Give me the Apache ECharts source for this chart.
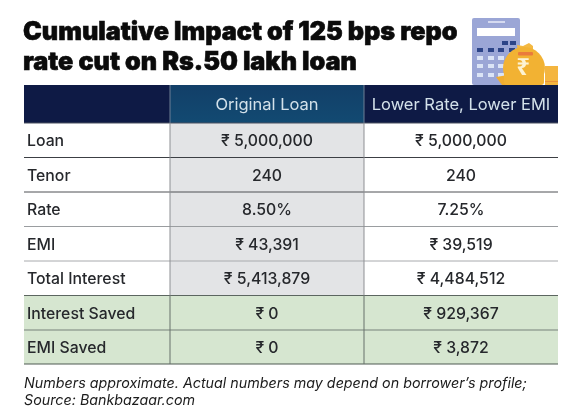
<!DOCTYPE html>
<html><head><meta charset="utf-8">
<style>html,body{margin:0;padding:0;background:#fff}#c{width:577px;height:407px}</style>
<script src="https://cdn.jsdelivr.net/npm/echarts@6/dist/echarts.min.js"></script></head>
<body><div id="c"></div>
<script>
const titleText = "Cumulative Impact of 125 bps repo\nrate cut on Rs.50 lakh loan";
const footnote = "Numbers approximate. Actual numbers may depend on borrower\u2019s profile;\nSource: Bankbazaar.com";
const columns = ["", "Original Loan", "Lower Rate, Lower EMI"];
const rowLabels = ["Loan","Tenor","Rate","EMI","Total Interest","Interest Saved","EMI Saved"];
const originalLoan = ["₹ 5,000,000","240","8.50%","₹ 43,391","₹ 5,413,879","₹ 0","₹ 0"];
const lowerRate = ["₹ 5,000,000","240","7.25%","₹ 39,519","₹ 4,484,512","₹ 929,367","₹ 3,872"];

// layout, in axis units (pixels from the table's corner)
const colEdges = [0,146,340,534];
const rowEdges = [0,38,72.5,107,141.5,176,210.5,245,279];
const lineColors = ["#4a5060","#3c3f44","#4e5155","#9a9da0","#a8aaad","#5c6660","#77817a","#4f5a52"];
const FONT = "Inter, 'Noto Sans', sans-serif";

const cells = [];
columns.forEach((c,ci)=>cells.push([ci,0,c]));
rowLabels.forEach((l,ri)=>{
  cells.push([0,ri+1,l]);
  cells.push([1,ri+1,originalLoan[ri]]);
  cells.push([2,ri+1,lowerRate[ri]]);
});
function fill(ci,ri){
  if(ri===0){
    if(ci===1) return new echarts.graphic.LinearGradient(0,0,0,1,[{offset:0,color:'#123f68'},{offset:1,color:'#124a72'}]);
    return '#0e1a45';
  }
  if(ri>=6) return '#d6e6d0';
  return ci===1 ? '#e3e4e6' : '#ffffff';
}
function renderCell(params,api){
  const ci=api.value(0), ri=api.value(1), txt=cells[params.dataIndex][2];
  const p0=api.coord([colEdges[ci],rowEdges[ri]]), p1=api.coord([colEdges[ci+1],rowEdges[ri+1]]);
  const w=p1[0]-p0[0], h=p1[1]-p0[1];
  const kids=[{type:'rect',shape:{x:p0[0],y:p0[1],width:w,height:h},style:{fill:fill(ci,ri)}}];
  kids.push({type:'line',shape:{x1:p0[0],y1:p1[1],x2:p1[0],y2:p1[1]},style:{stroke:lineColors[ri],lineWidth:1},z2:3});
  if(ci>0) kids.push({type:'line',shape:{x1:p0[0],y1:p0[1],x2:p0[0],y2:p1[1]},
    style:{stroke:ri===0?'#6d7f95':(ri>=6?'#66706a':'#8d8f93'),lineWidth:1},z2:3});
  const left=(ci===0);
  kids.push({type:'text',z2:5,style:{
    text:txt,x:left?p0[0]+3:p0[0]+w/2,y:p0[1]+h/2+1,
    align:left?'left':'center',verticalAlign:'middle',
    font:(ri===0?'400 16.5px ':'500 15.8px ')+FONT,
    fill:ri===0?'#d3e1ea':'#26282c'}});
  return {type:'group',children:kids};
}
const chart=echarts.init(document.getElementById('c'),null,{renderer:'canvas'});
chart.setOption({
  animation:false,backgroundColor:'#fff',
  title:{text:titleText,left:23,top:17,padding:0,textStyle:{fontFamily:FONT,fontWeight:900,fontSize:25.2,lineHeight:30,color:'#0b0b0b',textBorderColor:'#0b0b0b',textBorderWidth:0.6}},
  grid:{left:24,top:85,width:534,height:279},
  xAxis:{type:'value',min:0,max:534,show:false},
  yAxis:{type:'value',min:0,max:279,inverse:true,show:false},
  series:[{type:'custom',renderItem:renderCell,data:cells.map(c=>[c[0],c[1]]),silent:true,clip:false,encode:{x:0,y:1}}],
  graphic:[
    {type:'text',left:24,top:375,style:{text:footnote,font:"italic 400 14.3px "+FONT,lineHeight:17,fill:'#1c1c1c'}},
    {type:'group',x:472,y:18,silent:true,children:[
      {type:'rect',shape:{x:0,y:0,width:48,height:67,r:2},style:{fill:'#9ba6d6'}},
      {type:'rect',shape:{x:16,y:3,width:17,height:2},style:{fill:'#d5daf0'}},
      {type:'rect',shape:{x:5,y:10,width:38,height:8},style:{fill:'#ffffff'}},
      ...[[30,23],[38,23],[5,30],[16,30],[26,30],[37,30]].map(p=>({type:'rect',shape:{x:p[0],y:p[1],width:6,height:4},style:{fill:'#2c4488'}})),
      ...[[5,38],[16,38],[26,38],[5,46],[16,46],[26,46],[5,55],[16,55],[26,55]].map(p=>({type:'rect',shape:{x:p[0],y:p[1],width:6,height:4},style:{fill:'#dbe4f6'}}))
    ]},
    {type:'group',x:495,y:42,silent:true,children:[
      {type:'rect',shape:{x:50,y:24,width:13,height:19},style:{fill:'#f4b53f'}},
      {type:'rect',shape:{x:50,y:39,width:13,height:1},style:{fill:'#e9923a'}},
      {type:'polygon',shape:{points:[[1,35],[13,33],[16,43],[7,43]]},style:{fill:'#f0ac30'}},
      {type:'polygon',shape:{points:[[22,3],[28,4],[34,1],[38,4],[38,11],[23,11]]},style:{fill:'#f4b942'}},
      {type:'polygon',shape:{points:[[23,11],[38,11],[46,22],[14,22]]},style:{fill:'#f2b233'}},
      {type:'circle',shape:{cx:29,cy:26,r:21},style:{fill:'#f2b233'}},
      {type:'rect',shape:{x:9,y:30,width:40,height:13,r:3},style:{fill:'#f2b233'}},
      {type:'rect',shape:{x:23,y:10,width:15,height:3.5,r:1},style:{fill:'#ea7b3c'}},
      {type:'text',style:{text:'₹',x:28,y:26,align:'center',verticalAlign:'middle',font:"700 24px 'Noto Sans', sans-serif",fill:'#fdf3d4'}}
    ]}
  ]
});
</script></body></html>
